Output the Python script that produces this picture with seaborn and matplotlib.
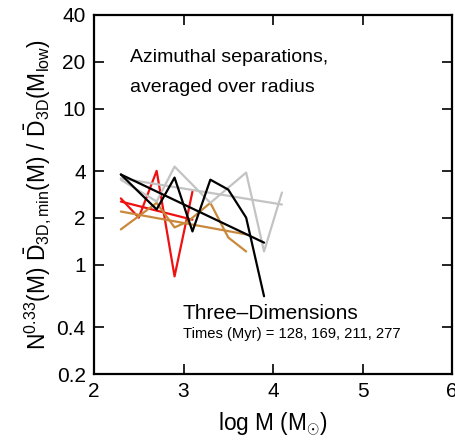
import numpy as np
import pandas as pd
import matplotlib
matplotlib.use("Agg")
import matplotlib.pyplot as plt
import seaborn as sns

# ---- data ----
red_x = [2.3, 2.5, 2.7, 2.9, 3.1]
red_y = [2.67, 2.01, 4.01, 0.845, 2.95]
red_fit_x = [2.3, 3.1]
red_fit_y = [2.55, 1.95]

brown_x = [2.3, 2.7, 2.9, 3.05, 3.3, 3.5, 3.7]
brown_y = [1.69, 2.50, 1.74, 1.90, 2.50, 1.50, 1.22]
brown_fit_x = [2.3, 3.7]
brown_fit_y = [2.20, 1.57]

black_x = [2.3, 2.7, 2.9, 3.1, 3.3, 3.5, 3.7, 3.9]
black_y = [3.80, 2.27, 3.63, 1.64, 3.52, 3.04, 2.01, 0.63]
black_fit_x = [2.3, 3.9]
black_fit_y = [3.80, 1.39]

gray_x = [2.3, 2.7, 2.9, 3.3, 3.7, 3.9, 4.1]
gray_y = [3.52, 2.55, 4.27, 2.50, 3.91, 1.22, 2.91]
gray_fit_x = [2.3, 4.1]
gray_fit_y = [3.59, 2.44]

y_ticks = [0.2, 0.4, 1, 2, 4, 10, 20, 40]
y_tick_labels = ["0.2", "0.4", "1", "2", "4", "10", "20", "40"]
x_ticks = [2, 3, 4, 5, 6]

series = [
    ("red", red_x, red_y, "#ee1111"),
    ("red fit", red_fit_x, red_fit_y, "#ee1111"),
    ("brown", brown_x, brown_y, "#c8893c"),
    ("brown fit", brown_fit_x, brown_fit_y, "#c8893c"),
    ("gray", gray_x, gray_y, "#c3c3c3"),
    ("gray fit", gray_fit_x, gray_fit_y, "#c3c3c3"),
    ("black", black_x, black_y, "#000000"),
    ("black fit", black_fit_x, black_fit_y, "#000000"),
]

sns.set_theme(style="ticks")
plt.rcParams['font.family'] = ['Liberation Sans', 'DejaVu Sans']
plt.rcParams['mathtext.fontset'] = 'custom'
plt.rcParams['mathtext.rm'] = 'Liberation Sans'
plt.rcParams['mathtext.it'] = 'Liberation Sans:italic'
plt.rcParams['mathtext.bf'] = 'Liberation Sans:bold'
for k in ['text.color', 'axes.labelcolor', 'xtick.color', 'ytick.color']:
    plt.rcParams[k] = 'black'

fig = plt.figure(figsize=(4.55, 4.40), dpi=100)
ax = fig.add_axes([94/455, 1 - 374/440, (452-94)/455, (374-15)/440])

for name, xs, ys, col in series:
    df = pd.DataFrame({"x": xs, "y": ys})
    sns.lineplot(data=df, x="x", y="y", ax=ax, color=col, lw=1.6,
                 sort=False, estimator=None)

ax.set_yscale("log")
ax.set_xlim(2, 6)
ax.set_ylim(0.2, 40)
ax.set_yticks(y_ticks)
ax.set_yticklabels(y_tick_labels)
ax.yaxis.set_minor_locator(matplotlib.ticker.NullLocator())
ax.set_xticks(x_ticks)
ax.tick_params(direction='in', top=True, right=True, length=7, width=1.2,
               labelsize=15, pad=6, colors='black')
for sp in ax.spines.values():
    sp.set_linewidth(1.6)
    sp.set_color('black')

ax.set_xlabel(r"log M (M$_{\odot}$)", fontsize=16.3, labelpad=6)
ax.set_ylabel(r"N$^{0.33}$(M) $\bar{\mathrm{D}}_{\mathrm{3D,min}}$(M) / $\bar{\mathrm{D}}_{\mathrm{3D}}$(M$_{\mathrm{low}}$)",
              fontsize=16.5, labelpad=2)

ax.text(2.4, 0.869, "Azimuthal separations,", transform=ax.get_xaxis_transform(),
        fontsize=14, ha='left', va='baseline')
ax.text(2.4, 0.786, "averaged over radius", transform=ax.get_xaxis_transform(),
        fontsize=14, ha='left', va='baseline')
ax.text(2.99, 0.153, "Three\u2013Dimensions", transform=ax.get_xaxis_transform(),
        fontsize=15, ha='left', va='baseline')
ax.text(2.99, 0.1, "Times (Myr) = 128, 169, 211, 277", transform=ax.get_xaxis_transform(),
        fontsize=10.6, ha='left', va='baseline')

fig.savefig("out.png", dpi=100)
